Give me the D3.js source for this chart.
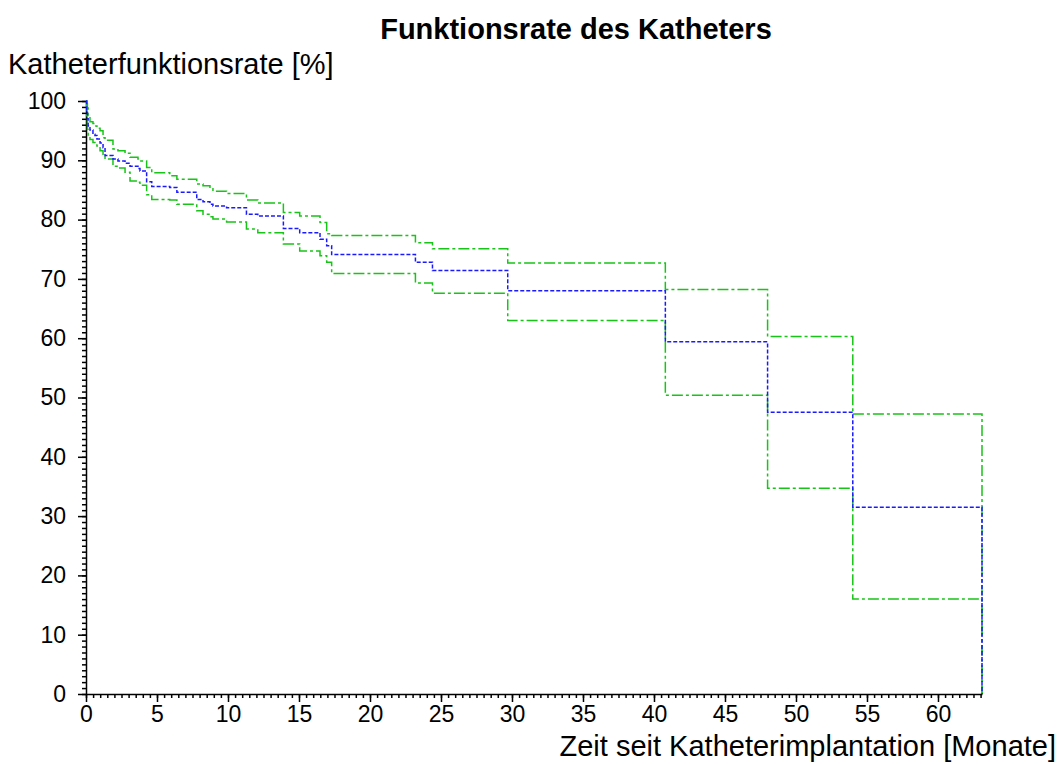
<!DOCTYPE html>
<html lang="de">
<head>
<meta charset="UTF-8">
<title>Funktionsrate des Katheters</title>
<style>
    body { margin: 0; background: #fff; }
    svg text { font-family: "Liberation Sans", Arial, Helvetica, sans-serif; fill: #000; }
    .axis path, .axis line { stroke: #000; stroke-width: 1.5px; }
</style>
</head>
<body>
<div id="chart"></div>
<script src="https://cdn.jsdelivr.net/npm/d3@7/dist/d3.min.js"></script>
<script>
"use strict";

// Event times (months) and step values (%)
var months = [0, 0.05, 0.1, 0.15, 0.28, 0.49, 0.63, 0.77, 0.99, 1.2, 1.34, 1.9, 2.25, 2.75, 3.1, 3.66, 3.8,
    4.27, 4.63, 5.9, 6.4, 7.8, 8.24, 8.73, 8.94, 9.9, 11.3, 12.1, 13.9, 15.05, 16.48, 16.95, 17.3,
    23.2, 24.4, 29.7, 40.8, 48, 54, 63.1];

var estimate = [100, 98.5, 97, 95.8, 95.1, 94.4, 94.2, 93.6, 92.9, 92.1, 90.8, 90.2, 89.9, 89.5, 89.0, 88.6, 88.2,
    86.4, 85.6, 85.4, 84.6, 83.4, 83.0, 82.6, 82.3, 82.0, 80.9, 80.6, 78.5, 77.8, 76.7, 75.6, 74.1,
    72.8, 71.4, 68.0, 59.4, 47.5, 31.5, 0];

var upper = [100, 99.5, 98.8, 97.5, 96.5, 96.2, 95.8, 95.4, 95.0, 93.8, 93.4, 91.9, 91.6, 91.2, 90.5, 90.2, 89.9,
    88.8, 87.9, 87.4, 86.8, 86.0, 85.7, 85.2, 84.8, 84.4, 83.3, 82.8, 81.2, 80.6, 79.5, 77.6, 77.3,
    76.1, 75.1, 72.7, 68.2, 60.3, 47.2, 0];

var lower = [100, 97.5, 95.2, 93.8, 93.5, 93.0, 92.6, 92.4, 91.6, 90.9, 90.2, 89.0, 88.7, 88.0, 86.5, 86.3, 85.8,
    84.2, 83.4, 83.3, 82.6, 81.5, 80.9, 80.5, 80.1, 79.6, 78.4, 77.8, 75.9, 74.7, 73.9, 72.8, 70.9,
    69.3, 67.6, 63.0, 50.4, 34.7, 16.0, 0];

var xMajor = d3.range(0, 61, 5);
var xMinor = d3.range(0, 63.1, 0.5);
var yMajor = d3.range(0, 101, 10);
var yMinor = d3.range(0, 101, 1);

var width = 1059, height = 764;
var plot = { left: 86, right: 982, top: 101, bottom: 694 };

var svg = d3.select('#chart').append('svg')
    .attr('width', width)
    .attr('height', height);

var x = d3.scaleLinear().domain([0, 63.1]).range([plot.left, plot.right]);
var y = d3.scaleLinear().domain([0, 100]).range([plot.bottom, plot.top]);

// title and axis labels
svg.append('text')
    .attr('x', 576).attr('y', 39)
    .attr('text-anchor', 'middle')
    .style('font-size', '29px').style('font-weight', 'bold')
    .text('Funktionsrate des Katheters');

svg.append('text')
    .attr('x', 8).attr('y', 74)
    .style('font-size', '29px')
    .text('Katheterfunktionsrate [%]');

svg.append('text')
    .attr('x', 1056).attr('y', 756)
    .attr('text-anchor', 'end')
    .style('font-size', '29px')
    .text('Zeit seit Katheterimplantation [Monate]');

// axes: minor ticks first, then major ticks with labels
svg.append('g').attr('class', 'axis')
    .attr('transform', 'translate(0,' + plot.bottom + ')')
    .call(d3.axisBottom(x).tickValues(xMinor).tickSize(4).tickSizeOuter(0).tickFormat(''));

svg.append('g').attr('class', 'axis')
    .attr('transform', 'translate(' + plot.left + ',0)')
    .call(d3.axisLeft(y).tickValues(yMinor).tickSize(4).tickSizeOuter(0).tickFormat(''));

var xAxis = svg.append('g').attr('class', 'axis')
    .attr('transform', 'translate(0,' + plot.bottom + ')')
    .call(d3.axisBottom(x).tickValues(xMajor).tickSize(8).tickSizeOuter(0).tickPadding(4));
xAxis.selectAll('text').style('font-size', '23px');
xAxis.select('.domain').remove();

var yAxis = svg.append('g').attr('class', 'axis')
    .attr('transform', 'translate(' + plot.left + ',0)')
    .call(d3.axisLeft(y).tickValues(yMajor).tickSize(8).tickSizeOuter(0).tickPadding(12));
yAxis.selectAll('text').style('font-size', '23px');
yAxis.select('.domain').remove();

// step curves
var step = d3.line()
    .x(function(d) { return x(d[0]); })
    .y(function(d) { return y(d[1]); })
    .curve(d3.curveStepAfter);

var series = [
    { values: upper, color: '#17c417', dash: '11,3,3,3' },
    { values: lower, color: '#17c417', dash: '11,3,3,3' },
    { values: estimate, color: '#1a1aff', dash: '4,2' }
];

svg.append('g').selectAll('path')
    .data(series)
    .enter()
    .append('path')
    .attr('d', function(s) {
        return step(months.map(function(m, i) { return [m, s.values[i]]; }));
    })
    .attr('fill', 'none')
    .attr('stroke', function(s) { return s.color; })
    .attr('stroke-width', 1.5)
    .attr('stroke-dasharray', function(s) { return s.dash; });
</script>
</body>
</html>
